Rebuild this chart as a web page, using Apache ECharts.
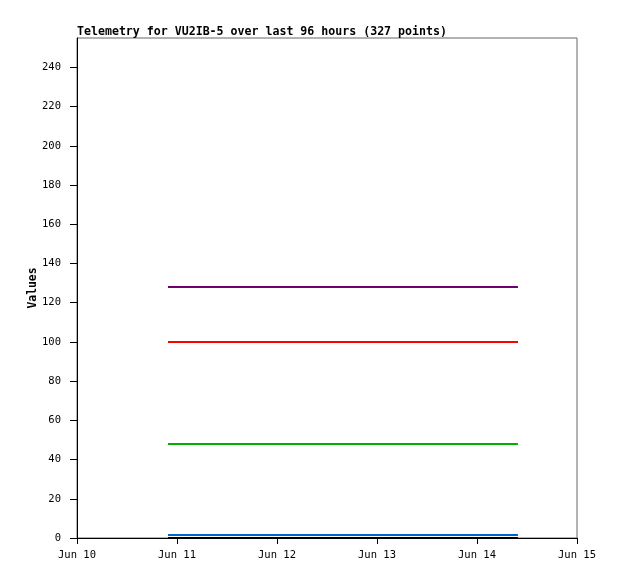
<!DOCTYPE html>
<html>
<head>
<meta charset="utf-8">
<script src="https://cdn.jsdelivr.net/npm/echarts@6/dist/echarts.min.js"></script>
<style>
html,body{margin:0;padding:0;background:#fff;}
#c{width:618px;height:579px;}
</style>
</head>
<body>
<div id="c"></div>
<script>
// Timestamps sampled along the (flat) telemetry lines
var times = [
  '2024-06-10T21:50:00', '2024-06-11T12:00:00', '2024-06-12T00:00:00',
  '2024-06-12T12:00:00', '2024-06-13T00:00:00', '2024-06-13T12:00:00',
  '2024-06-14T00:00:00', '2024-06-14T09:50:00'
];
var seriesNames = ['Ch1', 'Ch2', 'Ch3', 'Ch4', 'Ch5'];
var purpleVals = [128, 128, 128, 128, 128, 128, 128, 128];
var redVals    = [100, 100, 100, 100, 100, 100, 100, 100];
var greenVals  = [48, 48, 48, 48, 48, 48, 48, 48];
var blueVals   = [1.5, 1.5, 1.5, 1.5, 1.5, 1.5, 1.5, 1.5];
var blackVals  = [0, 0, 0, 0, 0, 0, 0, 0];
var xTickMin = '2024-06-10T00:00:00';
var xTickMax = '2024-06-15T00:00:00';
var months = ['Jan','Feb','Mar','Apr','May','Jun','Jul','Aug','Sep','Oct','Nov','Dec'];

function pairs(vals){ return times.map(function(t,i){ return [t, vals[i]]; }); }

var font = '"DejaVu Sans Mono", "Liberation Mono", monospace';
var chart = echarts.init(document.getElementById('c'), null, {renderer:'canvas'});
var colors = ['#000000', '#0066cc', '#00b000', '#ff0000', '#700070'];
var valsList = [blackVals, blueVals, greenVals, redVals, purpleVals];
chart.setOption({
  animation: false,
  backgroundColor: '#ffffff',
  title: {
    text: 'Telemetry for VU2IB-5 over last 96 hours (327 points)',
    left: 77, top: 26, padding: 0,
    textStyle: {fontFamily: font, fontSize: 11.6, fontWeight: 'bold', color: '#000'}
  },
  grid: {left: 77, top: 38, width: 500, height: 500, show: true, borderColor: '#666', borderWidth: 1, backgroundColor: 'transparent'},
  xAxis: {
    type: 'time',
    min: xTickMin, max: xTickMax,
    interval: 24*3600*1000,
    minInterval: 24*3600*1000,
    splitLine: {show: false},
    axisLine: {show: true, lineStyle: {color: '#000', width: 1}},
    axisTick: {show: true, length: 6, inside: false, lineStyle: {color: '#000'}},
    axisLabel: {
      fontFamily: font, fontSize: 10.5, color: '#000', margin: 12, showMinLabel: true, showMaxLabel: true,
      formatter: function(v){ var d = new Date(v); return months[d.getMonth()] + ' ' + d.getDate(); }
    }
  },
  yAxis: {
    type: 'value', min: 0, max: 255, interval: 20,
    name: 'Values', nameLocation: 'middle', nameGap: 38, nameRotate: 90, nameMoveOverlap: false,
    nameTextStyle: {fontFamily: font, fontSize: 11.4, fontWeight: 'bold', color: '#000'},
    splitLine: {show: false},
    axisLine: {show: true, lineStyle: {color: '#000', width: 1}},
    axisTick: {show: true, length: 7, lineStyle: {color: '#000'}},
    axisLabel: {fontFamily: font, fontSize: 10.5, color: '#000', margin: 16, showMaxLabel: false}
  },
  series: valsList.map(function(v, i){
    return {
      name: seriesNames[i], type: 'line', data: pairs(v), showSymbol: false,
      lineStyle: {color: colors[i], width: 2}, itemStyle: {color: colors[i]}
    };
  })
});
</script>
</body>
</html>
